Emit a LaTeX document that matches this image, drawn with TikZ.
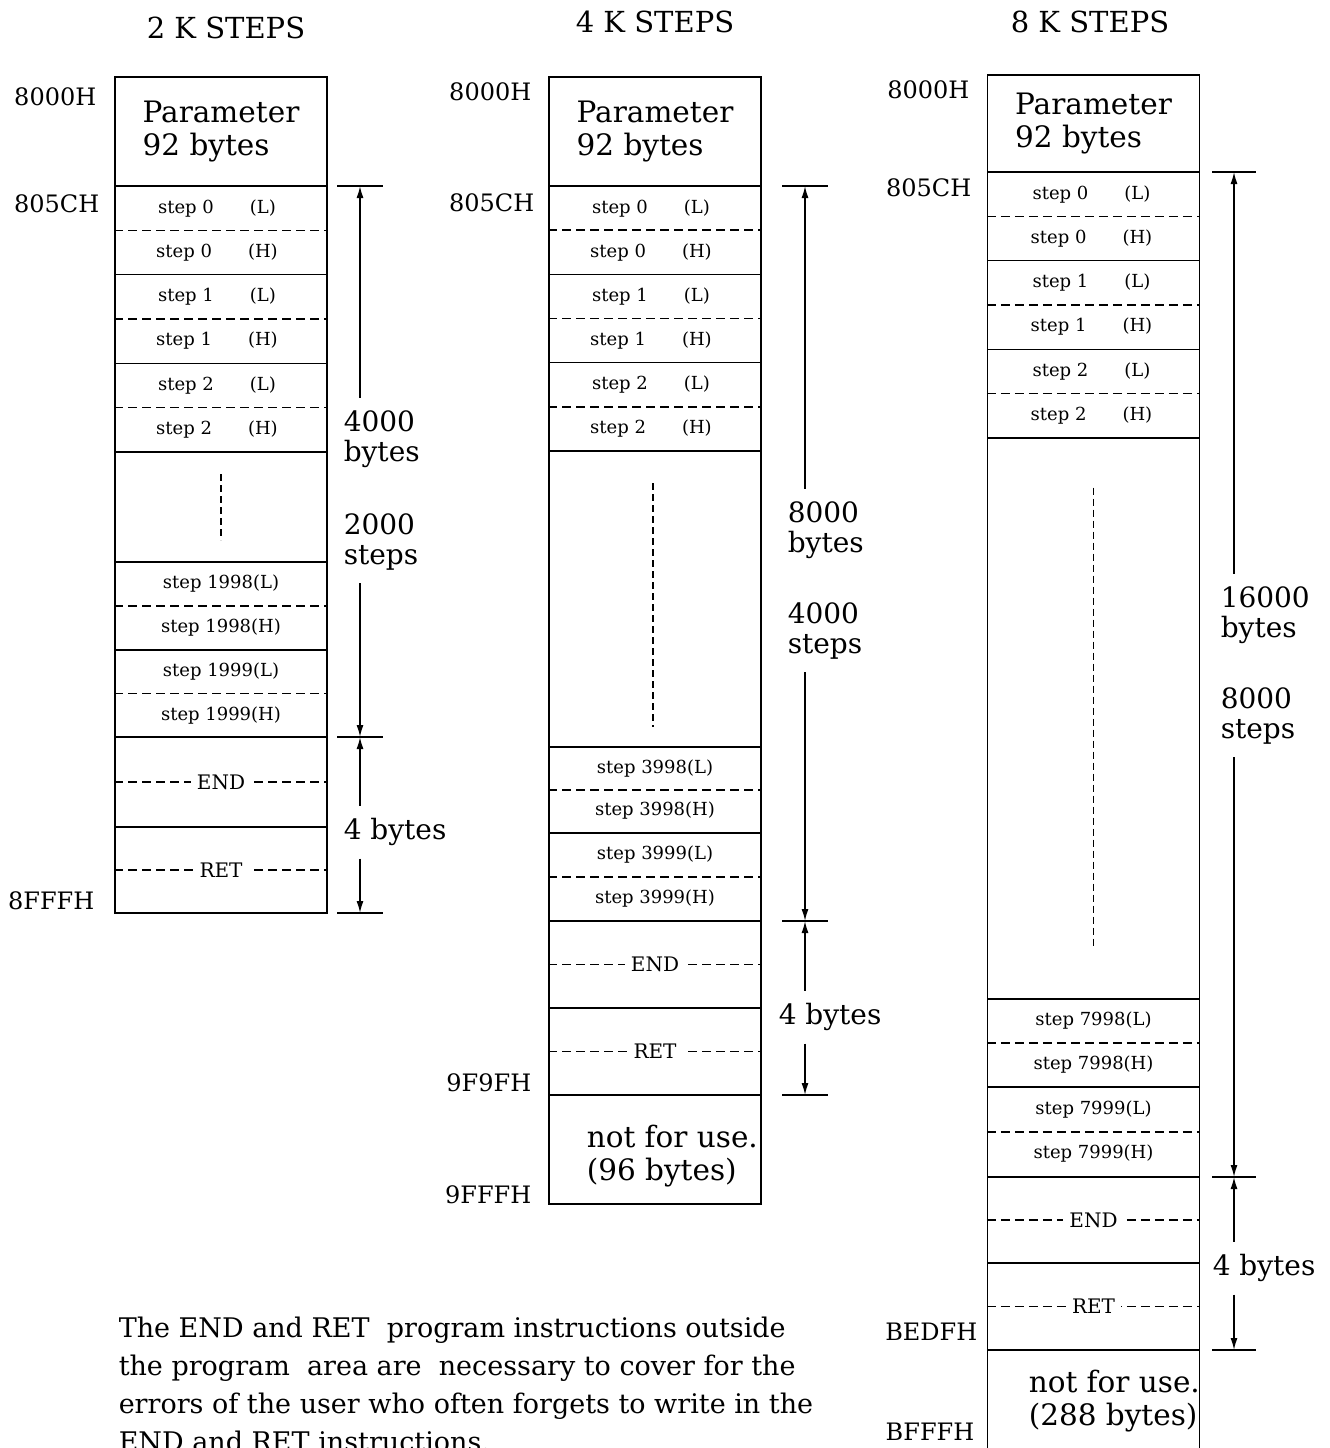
\documentclass[tikz,border=0pt]{standalone}
\usepackage{fontspec}
\setmainfont{DejaVu Serif}
\usetikzlibrary{arrows.meta,positioning,calc}

\begin{document}
\begin{tikzpicture}[x=1pt,y=-1pt,>={Latex[length=12pt,width=7pt]},line width=1.5pt,
  blk/.style={draw,minimum width=212pt,inner sep=0pt},
  ttl/.style={font=\fontsize{29}{32}\selectfont},
  adr/.style={anchor=east,inner sep=0pt,font=\fontsize{24}{26}\selectfont},
  big/.style={align=left,font=\fontsize{29.5}{33}\selectfont},
  dimtxt/.style={anchor=west,align=left,inner xsep=0pt,inner ysep=12pt,font=\fontsize{28}{30}\selectfont},
  stp/.style={font=\fontsize{18}{20}\selectfont},
  cmd/.style={fill=white,inner xsep=6pt,inner ysep=2pt,font=\fontsize{20}{22}\selectfont},
  sepline/.style={dash pattern=on 9pt off 5pt},
  dotline/.style={dash pattern=on 7pt off 4pt},
  dimtick/.style={line width=1.2pt}]

\useasboundingbox (0,0) rectangle (1330,1448);

% titles
\node[ttl] (t2k) at (226,28) {2 K STEPS};
\node[ttl] (t4k) at (655,22) {4 K STEPS};
\node[ttl] (t8k) at (1090,22) {8 K STEPS};

% ---- 2 K steps
\node[adr] (a1top) at (97,97) {8000H};
\node[adr] (a1prg) at (100,204) {805CH};
\node[adr] (a1end) at (95,901) {8FFFH};
\node[blk,big,minimum height=109pt] (par1) at (221,131.5) {Parameter\\92 bytes};
\foreach \i in {0,1,2}{
  \node[blk,minimum height=88.7pt] (c1s\i) at (221,{230.3+88.7*\i}) {};
  \draw[sepline] (c1s\i.west) -- (c1s\i.east);
  \node[stp] (c1l\i) at ([xshift=-4pt,yshift=22pt]c1s\i.center) {step \i\hspace{36pt}(L)};
  \node[stp] (c1h\i) at ([xshift=-4pt,yshift=-22pt]c1s\i.center) {step \i\hspace{36pt}(H)};
}
\node[blk,minimum height=110pt] (c1gap) at (221,507) {};
\draw[dotline] ([yshift=33pt]c1gap.center) -- ([yshift=-33pt]c1gap.center);
\node[blk,minimum height=88pt] (c1s1998) at (221,606) {};
\draw[sepline] (c1s1998.west) -- (c1s1998.east);
\node[stp] (c1l1998) at ([yshift=22pt]c1s1998.center) {step 1998(L)};
\node[stp] (c1h1998) at ([yshift=-22pt]c1s1998.center) {step 1998(H)};
\node[blk,minimum height=87pt] (c1s1999) at (221,693.5) {};
\draw[sepline] (c1s1999.west) -- (c1s1999.east);
\node[stp] (c1l1999) at ([yshift=22pt]c1s1999.center) {step 1999(L)};
\node[stp] (c1h1999) at ([yshift=-22pt]c1s1999.center) {step 1999(H)};
\node[blk,minimum height=90pt] (c1end) at (221,782) {};
\draw[sepline] (c1end.west) -- (c1end.east);
\node[cmd] (c1endt) at (c1end.center) {END};
\node[blk,minimum height=86pt] (c1ret) at (221,870) {};
\draw[sepline] (c1ret.west) -- (c1ret.east);
\node[cmd] (c1rett) at (c1ret.center) {RET};
% sizes
\coordinate (k1a) at (360,186);
\coordinate (k1b) at (360,737);
\coordinate (k1c) at (360,913);
\foreach \k in {k1a,k1b,k1c} \draw[dimtick] ([xshift=-23pt]\k) -- ([xshift=23pt]\k);
\node[dimtxt] (b1) at (343,439) {4000\\bytes};
\node[dimtxt] (s1) at (343,542) {2000\\steps};
\node[dimtxt] (f1) at (343,832) {4 bytes};
\draw[->] (b1.north -| k1a) -- (k1a);
\draw[->] (s1.south -| k1a) -- (k1b);
\draw[->] (f1.north -| k1b) -- (k1b);
\draw[->] (f1.south -| k1c) -- (k1c);

% ---- 4 K steps
\node[adr] (a2top) at (532,92) {8000H};
\node[adr] (a2prg) at (535,203) {805CH};
\node[adr] (a2ret) at (532,1083) {9F9FH};
\node[adr] (a2end) at (532,1195) {9FFFH};
\node[blk,big,minimum height=109pt] (par2) at (655,131.5) {Parameter\\92 bytes};
\foreach \i in {0,1,2}{
  \node[blk,minimum height=88.3pt] (c2s\i) at (655,{230.2+88.3*\i}) {};
  \draw[sepline] (c2s\i.west) -- (c2s\i.east);
  \node[stp] (c2l\i) at ([xshift=-4pt,yshift=22pt]c2s\i.center) {step \i\hspace{36pt}(L)};
  \node[stp] (c2h\i) at ([xshift=-4pt,yshift=-22pt]c2s\i.center) {step \i\hspace{36pt}(H)};
}
\node[blk,minimum height=296pt] (c2gap) at (655,599) {};
\draw[dotline] ([xshift=-2pt,yshift=116pt]c2gap.center) -- ([xshift=-2pt,yshift=-128pt]c2gap.center);
\node[blk,minimum height=86pt] (c2s3998) at (655,790) {};
\draw[sepline] (c2s3998.west) -- (c2s3998.east);
\node[stp] (c2l3998) at ([yshift=21pt]c2s3998.center) {step 3998(L)};
\node[stp] (c2h3998) at ([yshift=-21pt]c2s3998.center) {step 3998(H)};
\node[blk,minimum height=88pt] (c2s3999) at (655,877) {};
\draw[sepline] (c2s3999.west) -- (c2s3999.east);
\node[stp] (c2l3999) at ([yshift=22pt]c2s3999.center) {step 3999(L)};
\node[stp] (c2h3999) at ([yshift=-22pt]c2s3999.center) {step 3999(H)};
\node[blk,minimum height=87pt] (c2end) at (655,964.5) {};
\draw[sepline] (c2end.west) -- (c2end.east);
\node[cmd] (c2endt) at (c2end.center) {END};
\node[blk,minimum height=87pt] (c2ret) at (655,1051.5) {};
\draw[sepline] (c2ret.west) -- (c2ret.east);
\node[cmd] (c2rett) at (c2ret.center) {RET};
\node[blk,minimum height=109pt] (c2nfu) at (655,1149.5) {};
\node[big,anchor=west,inner sep=0pt] (c2nfut) at (586,1156) {not for use.\\(96 bytes)};
% sizes
\coordinate (k2a) at (805,186);
\coordinate (k2b) at (805,921);
\coordinate (k2c) at (805,1095);
\foreach \k in {k2a,k2b,k2c} \draw[dimtick] ([xshift=-23pt]\k) -- ([xshift=23pt]\k);
\node[dimtxt] (b2) at (787,530) {8000\\bytes};
\node[dimtxt] (s2) at (787,631) {4000\\steps};
\node[dimtxt] (f2) at (778,1017) {4 bytes};
\draw[->] (b2.north -| k2a) -- (k2a);
\draw[->] (s2.south -| k2a) -- (k2b);
\draw[->] (f2.north -| k2b) -- (k2b);
\draw[->] (f2.south -| k2c) -- (k2c);

% ---- 8 K steps
\node[adr] (a3top) at (970,90) {8000H};
\node[adr] (a3prg) at (972,188) {805CH};
\node[adr] (a3ret) at (978,1332) {BEDFH};
\node[adr] (a3end) at (975,1432) {BFFFH};
\node[blk,big,minimum height=97pt] (par3) at (1093.5,123.5) {Parameter\\92 bytes};
\foreach \i in {0,1,2}{
  \node[blk,minimum height=88.7pt] (c3s\i) at (1093.5,{216.3+88.7*\i}) {};
  \draw[sepline] (c3s\i.west) -- (c3s\i.east);
  \node[stp] (c3l\i) at ([xshift=-2pt,yshift=22pt]c3s\i.center) {step \i\hspace{36pt}(L)};
  \node[stp] (c3h\i) at ([xshift=-2pt,yshift=-22pt]c3s\i.center) {step \i\hspace{36pt}(H)};
}
\node[blk,minimum height=561pt] (c3gap) at (1093.5,718.5) {};
\draw[dotline] ([yshift=231pt]c3gap.center) -- ([yshift=-227pt]c3gap.center);
\node[blk,minimum height=88pt] (c3s7998) at (1093.5,1043) {};
\draw[sepline] (c3s7998.west) -- (c3s7998.east);
\node[stp] (c3l7998) at ([yshift=22pt]c3s7998.center) {step 7998(L)};
\node[stp] (c3h7998) at ([yshift=-22pt]c3s7998.center) {step 7998(H)};
\node[blk,minimum height=90pt] (c3s7999) at (1093.5,1132) {};
\draw[sepline] (c3s7999.west) -- (c3s7999.east);
\node[stp] (c3l7999) at ([yshift=22pt]c3s7999.center) {step 7999(L)};
\node[stp] (c3h7999) at ([yshift=-22pt]c3s7999.center) {step 7999(H)};
\node[blk,minimum height=86pt] (c3end) at (1093.5,1220) {};
\draw[sepline] (c3end.west) -- (c3end.east);
\node[cmd] (c3endt) at (c3end.center) {END};
\node[blk,minimum height=87pt] (c3ret) at (1093.5,1306.5) {};
\draw[sepline] (c3ret.west) -- (c3ret.east);
\node[cmd] (c3rett) at (c3ret.center) {RET};
\node[blk,minimum height=120pt] (c3nfu) at (1093.5,1410) {};
\node[big,anchor=west,inner sep=0pt] (c3nfut) at (1028,1401) {not for use.\\(288 bytes)};
% sizes
\coordinate (k3a) at (1234,172);
\coordinate (k3b) at (1234,1177);
\coordinate (k3c) at (1234,1350);
\foreach \k in {k3a,k3b,k3c} \draw[dimtick] ([xshift=-22pt]\k) -- ([xshift=22pt]\k);
\node[dimtxt] (b3) at (1220,615) {16000\\bytes};
\node[dimtxt] (s3) at (1220,716) {8000\\steps};
\node[dimtxt] (f3) at (1212,1268) {4 bytes};
\draw[->] (b3.north -| k3a) -- (k3a);
\draw[->] (s3.south -| k3a) -- (k3b);
\draw[->] (f3.north -| k3b) -- (k3b);
\draw[->] (f3.south -| k3c) -- (k3c);

% note
\node[anchor=north west,align=left,inner sep=0pt,font=\fontsize{27}{38}\selectfont] (note) at (118,1316)
  {The END and RET\ \ program instructions outside\\the program\ \ area are\ \ necessary to cover for the\\errors of the user who often forgets to write in the\\END and RET instructions.};
\end{tikzpicture}
\end{document}
